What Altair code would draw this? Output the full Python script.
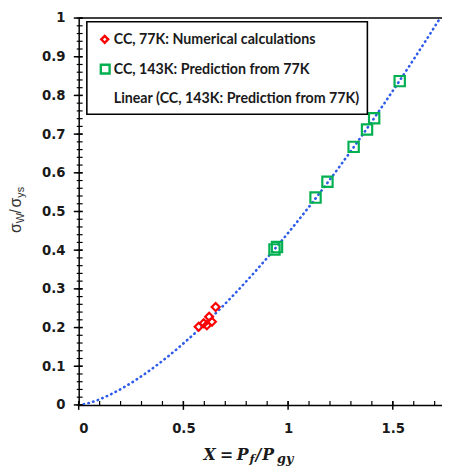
import altair as alt
import pandas as pd

series_names = [
    "CC, 77K: Numerical calculations",
    "CC, 143K: Prediction from 77K",
    "Linear (CC, 143K: Prediction from 77K)",
]
series_colors = ["#FF0000", "#00B050", "#2E5BE8"]

red_x = [0.573, 0.597, 0.612, 0.623, 0.636, 0.654]
red_y = [0.202, 0.211, 0.206, 0.228, 0.215, 0.253]
green_x = [0.935, 0.947, 1.131, 1.188, 1.313, 1.377, 1.411, 1.533]
green_y = [0.402, 0.408, 0.536, 0.577, 0.667, 0.712, 0.741, 0.837]

x_major = [0, 0.5, 1, 1.5]
x_minor = [0, 0.1, 0.2, 0.3, 0.4, 0.5, 0.6, 0.7, 0.8, 0.9, 1.0, 1.1, 1.2, 1.3, 1.4, 1.5, 1.6, 1.7]
y_major = [0, 0.1, 0.2, 0.3, 0.4, 0.5, 0.6, 0.7, 0.8, 0.9, 1]
y_minor = [round(i * 0.02, 2) for i in range(51)]

X_MAX = 1.735
W, H = 370, 394

pts = pd.DataFrame({
    "x": red_x + green_x,
    "y": red_y + green_y,
    "series": [series_names[0]] * len(red_x) + [series_names[1]] * len(green_x),
})
green = pd.DataFrame({"x": green_x, "y": green_y})

xs = alt.Scale(domain=[0, X_MAX], nice=False, zero=False)
ys = alt.Scale(domain=[0, 1], nice=False)

lab_font = "DejaVu Sans"
leg_font = "Lato"

x_axis = alt.Axis(orient="bottom", values=x_major, title=None, grid=False, ticks=False,
                  domainColor="black", domainWidth=1.5,
                  labelFont=lab_font, labelFontWeight="bold", labelFontSize=13.5,
                  labelColor="#1a1a1a", labelPadding=17, format="~g")
y_axis = alt.Axis(orient="left", values=y_major, title=None, grid=False, ticks=False,
                  domainColor="black", domainWidth=1.5,
                  labelFont=lab_font, labelFontWeight="bold", labelFontSize=13.5,
                  labelColor="#1a1a1a", labelPadding=14, format="~g")


def X(field):
    return alt.X(field, scale=xs, axis=x_axis)


def Y(field):
    return alt.Y(field, scale=ys, axis=y_axis)


curve = alt.Chart(green).transform_regression(
    "x", "y", method="pow", extent=[0, X_MAX]
).mark_line(clip=True, color=series_colors[2], strokeWidth=2.6,
            strokeDash=[0.5, 4.5], strokeCap="round").encode(
    x=X("x:Q"), y=Y("y:Q"),
)

top_rule = alt.Chart(pd.DataFrame({"y": [1]})).mark_rule(color="black", strokeWidth=1.5).encode(
    y=Y("y:Q"), x=alt.value(0), x2=alt.value(W),
)

# tick marks drawn through the scales
xminor_ticks = alt.Chart(pd.DataFrame({"x": x_minor})).mark_rule(color="black", strokeWidth=1.2).encode(
    x=X("x:Q"), y=alt.value(H - 4), y2=alt.value(H))
xmajor_ticks = alt.Chart(pd.DataFrame({"x": x_major})).mark_rule(color="black", strokeWidth=1.5).encode(
    x=X("x:Q"), y=alt.value(H - 4), y2=alt.value(H + 5))
yminor_ticks = alt.Chart(pd.DataFrame({"y": y_minor})).mark_rule(color="black", strokeWidth=1.2).encode(
    y=Y("y:Q"), x=alt.value(-2), x2=alt.value(4))
ymajor_ticks = alt.Chart(pd.DataFrame({"y": y_major})).mark_rule(color="black", strokeWidth=1.5).encode(
    y=Y("y:Q"), x=alt.value(-5), x2=alt.value(4))

points = alt.Chart(pts).mark_point(filled=False, strokeWidth=2.2, opacity=1).encode(
    x=X("x:Q"),
    y=Y("y:Q"),
    color=alt.Color("series:N", scale=alt.Scale(domain=series_names, range=series_colors),
                    legend=None),
    shape=alt.Shape("series:N", scale=alt.Scale(domain=series_names,
                                                range=["diamond", "square", "circle"]),
                    legend=None),
    size=alt.condition(alt.datum.series == series_names[0], alt.value(65), alt.value(110)),
)

one = pd.DataFrame({"a": [0]})

# legend (drawn as marks)
legend_box = alt.Chart(one).mark_rect(
    fill="white", stroke="black", strokeWidth=1.6).encode(
    x=alt.value(8.3), x2=alt.value(294), y=alt.value(3.7), y2=alt.value(98))
leg_red = alt.Chart(one).mark_point(shape="diamond", filled=False, color=series_colors[0],
                                    strokeWidth=2.4, size=50, opacity=1).encode(
    x=alt.value(26.5), y=alt.value(21.7))
leg_green = alt.Chart(one).mark_point(shape="square", filled=False, color=series_colors[1],
                                      strokeWidth=2.4, size=80, opacity=1).encode(
    x=alt.value(27), y=alt.value(52))


def txt(s, x, y, size, font, weight="normal", style="normal", angle=0, color="#1a1a1a",
        baseline="alphabetic"):
    return alt.Chart(one).mark_text(text=s, font=font, fontSize=size, fontWeight=weight,
                                    fontStyle=style, angle=angle, align="left",
                                    baseline=baseline, color=color).encode(
        x=alt.value(x), y=alt.value(y))


leg_text = [
    txt(series_names[0], 35.7, 22, 14.5, leg_font, "bold", baseline="middle"),
    txt(series_names[1], 35.7, 52.5, 14.5, leg_font, "bold", baseline="middle"),
    txt(series_names[2], 35.7, 82.5, 14.5, leg_font, "bold", baseline="middle"),
]

serif = "DejaVu Serif"
xt = [
    txt("X", 127, 450, 16, serif, "bold", "italic"),
    txt("=", 144, 450, 16, serif, "bold", "italic"),
    txt("P", 161, 450, 16, serif, "bold", "italic"),
    txt("f", 174, 453, 12, serif, "bold", "italic"),
    txt("/", 180, 450, 16, serif, "bold", "italic"),
    txt("P", 187, 450, 16, serif, "bold", "italic"),
    txt("gy", 202, 453, 13, serif, "bold", "italic"),
]
sans = "Liberation Sans"
yt = [
    txt("σ", -59, 219, 16, sans, angle=270, color="#333333"),
    txt("W", -56, 209, 11, sans, angle=270, color="#333333"),
    txt("/", -59, 199, 16, sans, angle=270, color="#333333"),
    txt("σ", -59, 193, 16, sans, angle=270, color="#333333"),
    txt("ys", -56, 183, 11, sans, angle=270, color="#333333"),
]

chart = alt.layer(
    curve, top_rule, xminor_ticks, xmajor_ticks, yminor_ticks, ymajor_ticks,
    points, legend_box, leg_red, leg_green, *leg_text, *xt, *yt
).properties(
    width=W, height=H,
    autosize=alt.AutoSizeParams(type="none"),
    padding={"left": 72, "top": 6, "right": 0, "bottom": 60},
).configure_view(stroke=None)

chart.save("out.html", embed_options={"renderer": "svg", "actions": False})
